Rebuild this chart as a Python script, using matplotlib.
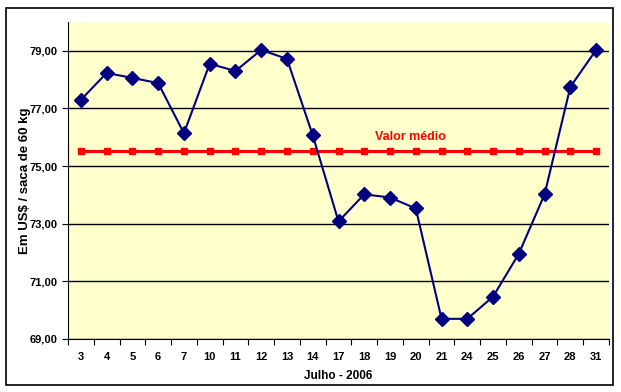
import numpy as np
import matplotlib
matplotlib.use('Agg')
from matplotlib import pyplot as plt
from matplotlib.patches import Rectangle

# dias de julho 2006 e preco (US$ / saca de 60 kg)
dias = ['3','4','5','6','7','10','11','12','13','14','17','18','19','20','21','24','25','26','27','28','31']
preco = [77.30, 78.23, 78.06, 77.88, 76.14, 78.55, 78.30, 79.03, 78.72, 76.07,
         73.08, 74.02, 73.91, 73.53, 69.70, 69.70, 70.47, 71.96, 74.02, 77.75, 79.03]
media = [75.52] * len(dias)
yticks = [69, 71, 73, 75, 77, 79]

plt.rcParams['font.family'] = ['Liberation Sans', 'DejaVu Sans']
fig = plt.figure(figsize=(6.21, 3.92), dpi=100)
fig.patches.append(Rectangle((0.009, 0.018), 0.978, 0.962, transform=fig.transFigure,
                             fill=False, edgecolor='black', linewidth=1.2))
ax = fig.add_axes([68/621, 1-339/392, (609-68)/621, (339-22)/392])
ax.set_facecolor('#FFFFCC')

x = np.arange(len(dias))
ax.plot(x, media, color='#FF0000', lw=2.2, marker='s', ms=5, zorder=3)
ax.plot(x, preco, color='#000080', lw=1.5, marker='D', ms=7, zorder=4)
ax.text(12.8, 76.0, 'Valor médio', color='#FF0000', fontsize=9, fontweight='bold', ha='center', va='center')

ax.set_ylim(69, 80)
ax.set_xlim(-0.5, len(dias)-0.5)
ax.set_yticks(yticks)
ax.set_yticklabels([('%.2f' % v).replace('.', ',') for v in yticks])
ax.yaxis.grid(True, color='black', lw=1)
ax.set_axisbelow(True)
ax.set_xticks(np.arange(len(dias)+1)-0.5)
ax.set_xticklabels([])
ax.set_xticks(x, minor=True)
ax.set_xticklabels(dias, minor=True)
ax.tick_params(axis='x', which='minor', length=0, pad=9, labelsize=8)
ax.tick_params(axis='x', which='major', length=4, direction='out')
ax.tick_params(axis='y', length=4, direction='out', labelsize=8)
for lb in ax.get_xticklabels(minor=True) + ax.get_yticklabels():
    lb.set_fontweight('bold')
for lb in ax.get_yticklabels():
    lb.set_family(['Liberation Sans Narrow', 'Liberation Sans'])
for s in ['top', 'right']:
    ax.spines[s].set_visible(False)
ax.set_xlabel('Julho - 2006', fontsize=8.5, fontweight='bold', labelpad=6)
ax.set_ylabel('Em US$ / saca de 60 kg', fontsize=9.5, fontweight='bold')
ax.yaxis.set_label_coords(-0.068, 0.5)

fig.savefig('out.png', dpi=100)
